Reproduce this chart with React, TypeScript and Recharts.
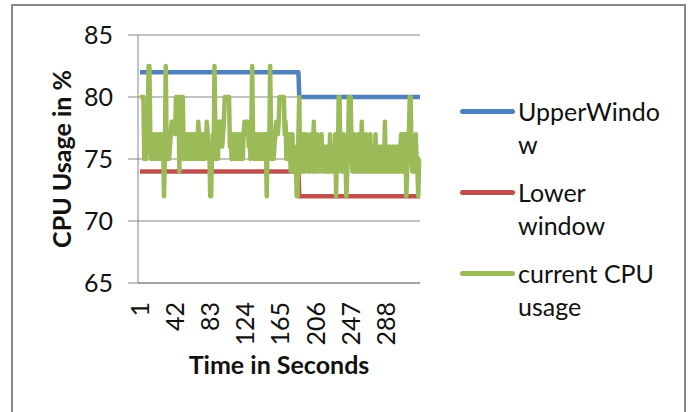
import { LineChart, Line, XAxis, YAxis, CartesianGrid } from "recharts";

// current CPU usage, one value per second
const cpuUsage = [
  80, 80, 80, 80, 80, 75, 77, 75, 76, 77,
  82.5, 82.5, 77, 75, 77, 75, 76, 77, 75, 77,
  75, 76, 77, 75, 77, 75, 76, 77, 72, 75,
  82.5, 77, 75, 77, 75, 76, 77, 78, 78, 78,
  78, 77, 80, 80, 80, 80, 74, 80, 80, 80,
  80, 75, 77, 75, 76, 77, 75, 77, 76, 75,
  77, 75, 76, 77, 75, 77, 75, 76, 78, 77,
  75, 77, 75, 76, 77, 75, 77, 76, 78, 77,
  75, 76, 72, 72, 75, 77, 75, 82.5, 77, 75,
  77, 75, 78, 78, 77, 78, 76, 77, 78, 80,
  80, 80, 80, 80, 80, 76, 77, 75, 76, 77,
  75, 77, 75, 76, 77, 75, 77, 75, 76, 77,
  75, 77, 78, 78, 77, 78, 78, 76, 77, 75,
  77, 82.5, 77, 75, 76, 77, 75, 77, 75, 76,
  77, 75, 77, 75, 76, 77, 75, 77, 72, 77,
  75, 76, 82.5, 77, 75, 77, 75, 76, 77, 78,
  78, 77, 78, 80, 80, 80, 80, 80, 80, 77,
  78, 75, 77, 75, 76, 77, 74, 75, 77, 74,
  76, 74, 75, 72, 72, 77, 80, 74, 77, 76,
  74, 77, 76, 74, 77, 75, 74, 76, 74, 77,
  75, 74, 76, 78, 74, 76, 74, 77, 75, 74,
  76, 74, 77, 75, 74, 76, 74, 75, 74, 76,
  74, 75, 77, 74, 76, 74, 75, 74, 77, 72,
  76, 74, 80, 80, 75, 74, 76, 74, 77, 74,
  75, 72, 74, 76, 80, 80, 80, 76, 74, 75,
  77, 74, 76, 74, 75, 77, 74, 76, 74, 78,
  74, 76, 74, 75, 77, 74, 76, 74, 75, 77,
  74, 75, 74, 76, 74, 77, 74, 76, 74, 75,
  76, 74, 75, 74, 76, 74, 78, 74, 76, 74,
  75, 74, 76, 74, 75, 74, 76, 74, 75, 74,
  76, 74, 75, 74, 76, 77, 74, 77, 74, 77,
  77, 72, 74, 76, 77, 80, 80, 76, 74, 75,
  76, 74, 77, 75, 74, 72, 75, 75,
];

// window limits as [number of seconds, value]
const upperWindowRuns = [
  [186, 82],
  [142, 80],
];
const lowerWindowRuns = [
  [186, 74],
  [142, 72],
];

const yTicks = [65, 70, 75, 80, 85];

// legend labels, wrapped the way the original shows them
const legendItems = [
  { lines: ["UpperWindo", "w"], color: "#4f81bd" },
  { lines: ["Lower", "window"], color: "#c0504d" },
  { lines: ["current CPU", "usage"], color: "#9bbb59" },
];

const expand = (runs: number[][]) =>
  runs.flatMap(([n, v]) => Array(n).fill(v));

const upperWindow = expand(upperWindowRuns);
const lowerWindow = expand(lowerWindowRuns);
const seconds = cpuUsage.map((_, i) => i + 1);

const data = seconds.map((t, i) => ({
  t,
  upper: upperWindow[i],
  lower: lowerWindow[i],
  cpu: cpuUsage[i],
}));

const FONT = "Lato, 'Open Sans', sans-serif";
const GRAY = "#878787";
const TEXT = "#111";

function XTick({ x, y, payload }: any) {
  return (
    <text
      x={0}
      y={0}
      transform={`translate(${x},${y + 11}) rotate(-90)`}
      textAnchor="end"
      dy="0.36em"
      fontSize={25}
      fontFamily={FONT}
      fill={TEXT}
    >
      {payload.value}
    </text>
  );
}

export default function App() {
  return (
    <div
      style={{
        position: "absolute",
        left: 0,
        top: 0,
        width: 689,
        height: 412,
        overflow: "hidden",
        background: "#fff",
      }}
    >
      {/* Outer frame */}
      <div
        style={{
          position: "absolute",
          left: 11,
          top: 4,
          width: 675,
          height: 430,
          border: `2px solid ${GRAY}`,
          boxSizing: "border-box",
        }}
      />
      <div style={{ position: "absolute", left: 0, top: 0 }}>
        <LineChart
          width={689}
          height={412}
          data={data}
          margin={{ top: 35, right: 269, left: 0, bottom: 0 }}
        >
          <CartesianGrid vertical={false} stroke={GRAY} />
          <XAxis
            dataKey="t"
            interval={40}
            tickLine={false}
            axisLine={{ stroke: GRAY }}
            padding={{ left: 2, right: 0 }}
            height={129}
            tick={<XTick />}
          />
          <YAxis
            domain={[65, 85]}
            ticks={yTicks}
            width={138}
            tickSize={10}
            tickMargin={15}
            tickLine={{ stroke: GRAY }}
            axisLine={{ stroke: GRAY }}
            tick={{ fontSize: 25, fontFamily: FONT, fill: TEXT }}
          />
          <Line
            dataKey="upper"
            stroke="#4f81bd"
            strokeWidth={4.5}
            dot={false}
            strokeLinejoin="round"
            isAnimationActive={false}
          />
          <Line
            dataKey="lower"
            stroke="#c0504d"
            strokeWidth={4.5}
            dot={false}
            strokeLinejoin="round"
            isAnimationActive={false}
          />
          <Line
            dataKey="cpu"
            stroke="#9bbb59"
            strokeWidth={4.5}
            dot={false}
            strokeLinejoin="round"
            isAnimationActive={false}
          />
          {/* Axis titles */}
          <text
            x={279}
            y={374}
            textAnchor="middle"
            fontSize={25}
            fontWeight="bold"
            fontFamily={FONT}
            fill={TEXT}
          >
            Time in Seconds
          </text>
          <text
            transform="translate(62,159) rotate(-90)"
            textAnchor="middle"
            dy="0.36em"
            fontSize={25}
            fontWeight="bold"
            fontFamily={FONT}
            fill={TEXT}
          >
            CPU Usage in %
          </text>
        </LineChart>
      </div>

      {/* Legend */}
      <div
        style={{
          position: "absolute",
          left: 460,
          top: 95,
          fontFamily: FONT,
          fontSize: 25,
          color: TEXT,
        }}
      >
        {legendItems.map((item) => (
          <div
            key={item.lines[0]}
            style={{ display: "flex", alignItems: "flex-start", height: 81 }}
          >
            <div
              style={{
                width: 55,
                height: 5,
                marginTop: 14,
                marginRight: 3,
                borderRadius: 3,
                background: item.color,
                flex: "none",
              }}
            />
            <div style={{ lineHeight: "33px", whiteSpace: "nowrap" }}>
              {item.lines.map((l) => (
                <div key={l}>{l}</div>
              ))}
            </div>
          </div>
        ))}
      </div>
    </div>
  );
}
